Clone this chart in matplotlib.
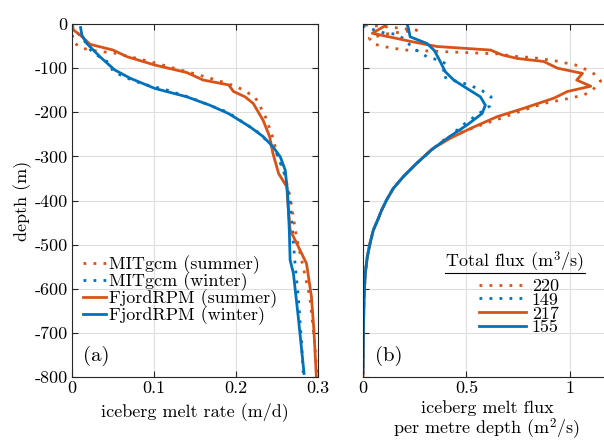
import matplotlib
matplotlib.use("Agg")
import matplotlib.pyplot as plt
from matplotlib.lines import Line2D

plt.rcParams["font.family"] = ["cmr10", "DejaVu Serif"]
plt.rcParams["mathtext.fontset"] = "cm"
plt.rcParams["axes.unicode_minus"] = False
plt.rcParams["axes.formatter.use_mathtext"] = False
plt.rcParams["font.size"] = 13

orange = "#D95319"
blue = "#0072BD"

# (a) melt rate, m/d
mit_summer_d = [-2, -20, -42, -55, -59, -63, -65, -76, -88, -101, -113, -127, -142, -165, -206,
                -252, -293, -331, -392, -486, -535, -618, -724, -798]
mit_summer_rate = [0.0, 0.0, 0.002, 0.012, 0.024, 0.036, 0.050, 0.075, 0.101, 0.126, 0.150, 0.176,
                   0.201, 0.223, 0.235, 0.244, 0.250, 0.258, 0.266, 0.274, 0.280, 0.290, 0.296, 0.299]
mit_winter_d = [-2, -10, -40, -63, -89, -108, -127, -136, -142, -148, -156, -163, -171, -180, -200,
                -248, -286, -339, -400, -471, -543, -618, -724, -792]
mit_winter_rate = [0.0, 0.002, 0.016, 0.024, 0.046, 0.050, 0.073, 0.087, 0.099, 0.113, 0.126, 0.138,
                   0.150, 0.162, 0.190, 0.229, 0.248, 0.259, 0.266, 0.269, 0.272, 0.276, 0.280, 0.282]
rpm_summer_d = [-3, -14, -25, -46, -59, -74, -93, -110, -127, -138, -153, -165, -180, -218, -255,
                -293, -339, -369, -400, -467, -497, -543, -618, -694, -800]
rpm_summer_rate = [0.0, 0.002, 0.010, 0.022, 0.050, 0.067, 0.101, 0.140, 0.160, 0.191, 0.197, 0.211,
                   0.221, 0.233, 0.241, 0.245, 0.252, 0.262, 0.263, 0.266, 0.274, 0.286, 0.292, 0.295,
                   0.298]
rpm_winter_d = [-8, -25, -44, -74, -104, -123, -146, -165, -184, -203, -233, -255, -278, -301, -331,
                -384, -467, -535, -565, -665, -792]
rpm_winter_rate = [0.0105, 0.012, 0.018, 0.034, 0.052, 0.071, 0.101, 0.140, 0.168, 0.191, 0.217,
                   0.233, 0.245, 0.254, 0.260, 0.263, 0.265, 0.266, 0.270, 0.276, 0.283]

# (b) melt flux per metre depth, m^2/s
mit_summer_fd = [-2, -8, -14, -22, -32, -45, -51, -55, -59, -61, -63, -65, -68, -73, -76, -83, -93,
                 -103, -113, -129, -146, -161, -171, -180, -195, -214, -227, -246, -263, -284, -316,
                 -346, -373, -399, -422, -441, -467, -497, -527, -565, -618, -694, -800]
mit_summer_flux = [0.01, 0.15, 0.26, 0.12, 0.03, 0.05, 0.099, 0.147, 0.204, 0.309, 0.406, 0.511,
                   0.665, 0.722, 0.819, 0.924, 1.029, 1.078, 1.118, 1.150, 1.118, 1.070, 0.972, 0.875,
                   0.778, 0.665, 0.584, 0.471, 0.390, 0.335, 0.259, 0.195, 0.146, 0.114, 0.090, 0.074,
                   0.050, 0.034, 0.021, 0.011, 0.005, 0.002, 0.0]
mit_winter_fd = [-3, -6, -14, -21, -23, -36, -48, -63, -74, -82, -91, -105, -118, -127, -133, -141,
                 -151, -165, -186, -206, -230, -255, -282, -316, -346, -373, -399, -422, -441, -467,
                 -497, -527, -565, -618, -694, -790]
mit_winter_flux = [0.0, 0.01, 0.058, 0.107, 0.163, 0.204, 0.228, 0.269, 0.309, 0.366, 0.406, 0.39,
                   0.382, 0.430, 0.479, 0.528, 0.576, 0.620, 0.613, 0.552, 0.48, 0.42, 0.340, 0.259,
                   0.195, 0.146, 0.114, 0.090, 0.074, 0.050, 0.034, 0.021, 0.011, 0.005, 0.002, 0.0]
rpm_summer_fd = [-4, -21, -40, -51, -59, -70, -78, -85, -100, -112, -127, -141, -153, -168, -191,
                 -210, -237, -259, -284, -316, -346, -373, -399, -422, -441, -467, -497, -527, -565,
                 -618, -694, -800]
rpm_summer_flux = [0.107, 0.045, 0.236, 0.358, 0.617, 0.673, 0.746, 0.875, 0.940, 1.062, 1.034,
                   1.102, 0.989, 0.924, 0.778, 0.649, 0.519, 0.422, 0.332, 0.259, 0.195, 0.146,
                   0.114, 0.090, 0.074, 0.050, 0.034, 0.021, 0.011, 0.005, 0.002, 0.0]
rpm_winter_fd = [-3, -10, -29, -44, -60, -78, -108, -127, -146, -165, -184, -203, -229, -255, -282,
                 -316, -346, -373, -399, -422, -441, -467, -497, -527, -565, -618, -694, -790]
rpm_winter_flux = [0.215, 0.220, 0.228, 0.309, 0.345, 0.366, 0.398, 0.439, 0.503, 0.568, 0.592,
                   0.576, 0.503, 0.420, 0.340, 0.259, 0.195, 0.146, 0.114, 0.090, 0.074, 0.050,
                   0.034, 0.021, 0.011, 0.005, 0.002, 0.0]

labels_a = ["MITgcm (summer)", "MITgcm (winter)", "FjordRPM (summer)", "FjordRPM (winter)"]
labels_b = ["220", "149", "217", "155"]

dot = dict(linestyle=(0, (1, 2.6)), linewidth=2.0)
sol = dict(linestyle="-", linewidth=2.0)

fig = plt.figure(figsize=(6.04, 4.41), dpi=100)
ax1 = fig.add_axes([72 / 604, 64 / 441, 246 / 604, 353 / 441])
ax2 = fig.add_axes([363 / 604, 64 / 441, 248 / 604, 353 / 441])

ax1.plot(mit_summer_rate, mit_summer_d, color=orange, **dot)
ax1.plot(mit_winter_rate, mit_winter_d, color=blue, **dot)
ax1.plot(rpm_summer_rate, rpm_summer_d, color=orange, **sol)
ax1.plot(rpm_winter_rate, rpm_winter_d, color=blue, **sol)

ax2.plot(mit_summer_flux, mit_summer_fd, color=orange, **dot)
ax2.plot(mit_winter_flux, mit_winter_fd, color=blue, **dot)
ax2.plot(rpm_summer_flux, rpm_summer_fd, color=orange, **sol)
ax2.plot(rpm_winter_flux, rpm_winter_fd, color=blue, **sol)

yt = list(range(0, -801, -100))
for ax in (ax1, ax2):
    ax.set_ylim(-800, 0)
    ax.set_yticks(yt)
    ax.grid(True, color="0.87", linewidth=0.8)
    ax.set_axisbelow(True)
    ax.tick_params(direction="in", top=True, right=True, length=4, width=0.8, color="0.15",
                   labelsize=13, pad=3)
    for s in ax.spines.values():
        s.set_color("0.15")
        s.set_linewidth(0.8)

ax1.set_xlim(0, 0.3)
ax1.set_xticks([0, 0.1, 0.2, 0.3])
ax1.set_xticklabels(["0", "0.1", "0.2", "0.3"])
ax1.set_yticklabels([str(v) for v in yt])
ax1.set_ylabel("depth (m)", fontsize=13, labelpad=2)
ax1.set_xlabel("iceberg melt rate (m/d)", fontsize=13, labelpad=4)

ax2.set_xlim(0, 1.2)
ax2.set_xticks([0, 0.5, 1])
ax2.set_xticklabels(["0", "0.5", "1"])
ax2.set_yticklabels([])
ax2.set_xlabel("iceberg melt flux\nper metre depth (m$^2$/s)", fontsize=13, labelpad=3,
               linespacing=1.0)

ax1.legend(ax1.get_lines(), labels_a, loc="upper left", bbox_to_anchor=(0.03, 0.355),
           frameon=False, fontsize=13, handlelength=1.3, handletextpad=0.15,
           labelspacing=-0.1, borderpad=0.2, borderaxespad=0)

ax2.text(0.61, 0.325, "Total flux (m$^3$/s)", transform=ax2.transAxes, ha="center",
         va="center", fontsize=13)
ax2.add_line(Line2D([0.33, 0.895], [0.295, 0.295], transform=ax2.transAxes, color="k",
                    linewidth=0.8))
ax2.legend(ax2.get_lines(), labels_b, loc="upper left", bbox_to_anchor=(0.455, 0.29),
           frameon=False, fontsize=13, handlelength=2.6, handletextpad=0.3,
           labelspacing=-0.1, borderpad=0.2, borderaxespad=0)

ax1.text(0.098, 0.06, "(a)", transform=ax1.transAxes, ha="center", va="center", fontsize=15)
ax2.text(0.105, 0.06, "(b)", transform=ax2.transAxes, ha="center", va="center", fontsize=15)

fig.savefig("out.png", dpi=100)
